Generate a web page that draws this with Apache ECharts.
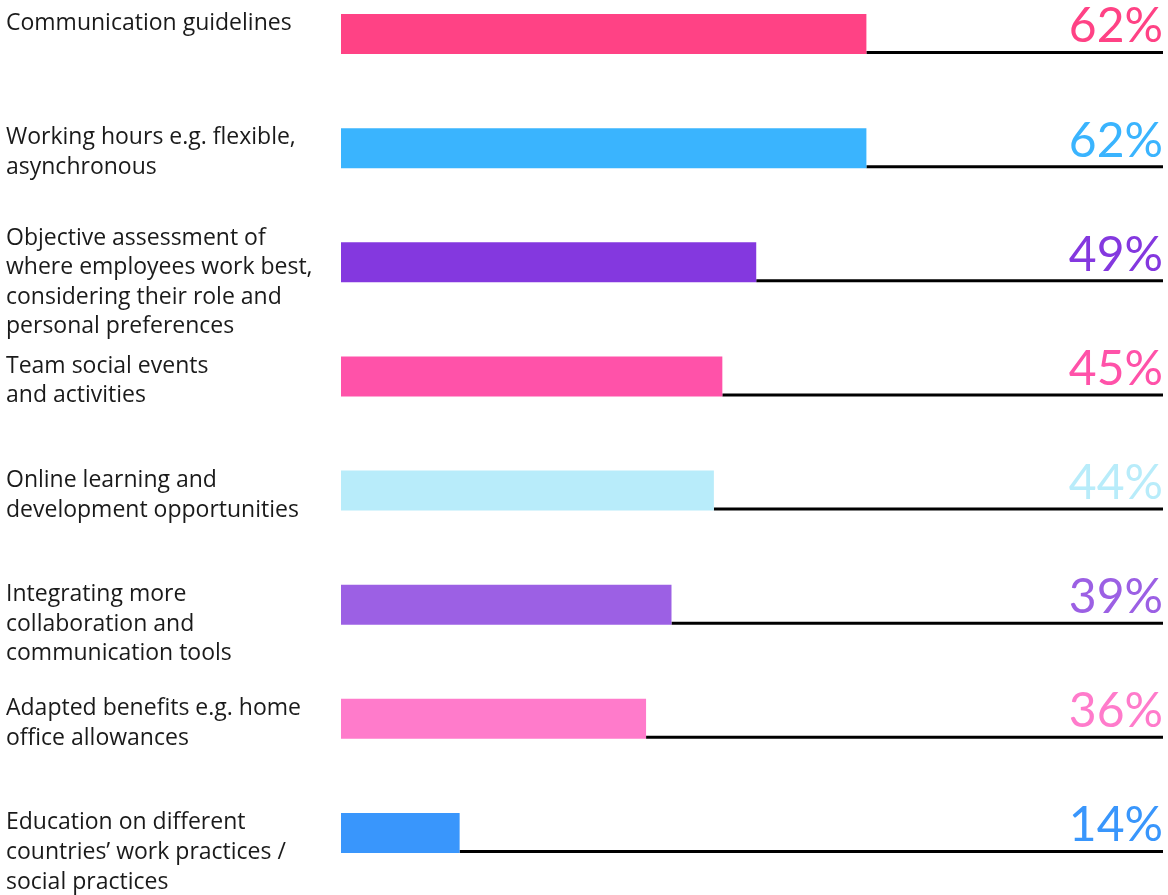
<!DOCTYPE html>
<html>
<head>
<meta charset="utf-8">
<script src="https://cdn.jsdelivr.net/npm/echarts@6/dist/echarts.min.js"></script>
<style>html,body{margin:0;padding:0;background:#fff}#c{width:1168px;height:895px}</style>
</head>
<body>
<div id="c"></div>
<script>
const categories = [
  "Communication guidelines",
  "Working hours e.g. flexible,\nasynchronous",
  "Objective assessment of\nwhere employees work best,\nconsidering their role and\npersonal preferences",
  "Team social events\nand activities",
  "Online learning and\ndevelopment opportunities",
  "Integrating more\ncollaboration and\ncommunication tools",
  "Adapted benefits e.g. home\noffice allowances",
  "Education on different\ncountries\u2019 work practices /\nsocial practices"
];
const values = [62, 62, 49, 45, 44, 39, 36, 14];
const colors = ["#ff4285", "#3ab4fe", "#8438df", "#ff52a9", "#b8ecfa", "#9c60e4", "#ff7bcb", "#3996fc"];
const axisMax = 97;

const chart = echarts.init(document.getElementById('c'), null, {renderer: 'canvas'});
chart.setOption({
  animation: false,
  grid: {left: 341, right: 5, top: 34, bottom: 62},
  xAxis: {type: 'value', min: 0, max: axisMax, show: false},
  yAxis: {type: 'category', data: categories, inverse: true, boundaryGap: false, show: false},
  series: [{
    type: 'custom',
    data: values.map((v, i) => [v, i]),
    renderItem: function (params, api) {
      const v = api.value(0), idx = api.value(1);
      const p0 = api.coord([0, idx]);
      const p1 = api.coord([v, idx]);
      const cs = params.coordSys;
      const right = cs.x + cs.width;
      const cy = p0[1];
      const h = 40;
      const col = colors[idx];
      const lbl = categories[idx];
      const nLines = lbl.split('\n').length;
      const lblTop = cy - 25 - Math.max(0, nLines - 3) * 14;
      return {
        type: 'group',
        children: [
          {type: 'rect', shape: {x: p1[0], y: cy + h / 2 - 3, width: right - p1[0], height: 3}, style: {fill: '#000'}},
          {type: 'rect', shape: {x: p0[0], y: cy - h / 2, width: p1[0] - p0[0], height: h}, style: {fill: col}},
          {type: 'text', style: {x: right, y: cy - 7, text: v + '%', fill: col, font: '48px Lato', align: 'right', verticalAlign: 'middle'}},
          {type: 'text', style: {x: 6, y: lblTop, text: lbl, fill: '#1a1a1a', font: '23px "Open Sans"', lineHeight: 29.6, align: 'left', verticalAlign: 'top'}}
        ]
      };
    }
  }]
});
</script>
</body>
</html>
